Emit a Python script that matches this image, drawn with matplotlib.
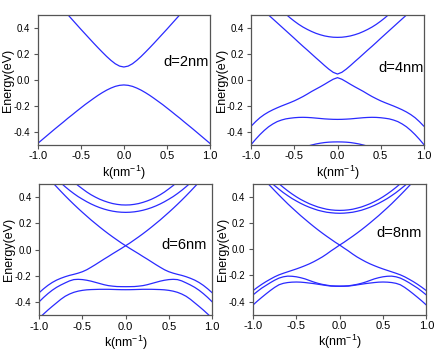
import matplotlib
matplotlib.use("Agg")
import matplotlib.pyplot as plt
import numpy as np

plt.rcParams['font.family'] = ['Liberation Sans', 'DejaVu Sans']
plt.rcParams['mathtext.default'] = 'regular'
plt.rcParams['axes.unicode_minus'] = False

# k grid (nm^-1), only k >= 0 is listed, bands are symmetric in k
k = [0.0, 0.05, 0.1, 0.15, 0.2, 0.25, 0.3, 0.35, 0.4, 0.45, 0.5,
     0.55, 0.6, 0.65, 0.7, 0.75, 0.8, 0.85, 0.9, 0.95, 1.0]

# d = 2nm
d2_cond = [0.100, 0.107, 0.125, 0.151, 0.181, 0.214, 0.248, 0.283, 0.319, 0.355,
           0.391, 0.428, 0.465, 0.502, 0.539]
d2_val = [-0.038, -0.041, -0.049, -0.062, -0.078, -0.097, -0.118, -0.141, -0.165, -0.189,
          -0.215, -0.241, -0.268, -0.294, -0.322, -0.349, -0.376, -0.404, -0.432, -0.460, -0.488]

# d = 4nm
d4_sub1 = [0.328, 0.329, 0.333, 0.339, 0.348, 0.359, 0.373, 0.389, 0.407, 0.428,
           0.452, 0.478, 0.507, 0.538]
d4_dirac_up = [0.046, 0.059, 0.083, 0.111, 0.141, 0.170, 0.200, 0.230, 0.259, 0.289,
               0.320, 0.350, 0.380, 0.410, 0.440, 0.470, 0.500, 0.530]
d4_dirac_dn = [0.018, 0.006, -0.013, -0.033, -0.052, -0.070, -0.088, -0.108, -0.127, -0.144,
               -0.160, -0.174, -0.187, -0.200, -0.214, -0.229, -0.246, -0.266, -0.290, -0.320, -0.354]
d4_vb1 = [-0.303, -0.3025, -0.301, -0.299, -0.296, -0.293, -0.290, -0.288, -0.287, -0.2877,
          -0.290, -0.294, -0.299, -0.308, -0.320, -0.338, -0.360, -0.388, -0.420, -0.456, -0.495]
d4_vb2 = [-0.476, -0.4765, -0.478, -0.481, -0.486, -0.492, -0.500, -0.509, -0.520]

# d = 6nm
d6_sub1 = [0.340, 0.341, 0.345, 0.351, 0.360, 0.371, 0.384, 0.400, 0.418, 0.439,
           0.463, 0.488, 0.516]
d6_sub2 = [0.284, 0.285, 0.288, 0.293, 0.300, 0.309, 0.320, 0.333, 0.348, 0.365,
           0.384, 0.404, 0.427, 0.452, 0.479, 0.508]
d6_dirac_up = [0.030, 0.051, 0.074, 0.097, 0.121, 0.146, 0.172, 0.199, 0.226, 0.255,
               0.284, 0.314, 0.345, 0.377, 0.410, 0.444, 0.479, 0.514]
d6_dirac_dn = [0.030, 0.009, -0.011, -0.031, -0.052, -0.072, -0.093, -0.114, -0.134, -0.153,
               -0.168, -0.179, -0.188, -0.196, -0.206, -0.218, -0.232, -0.250, -0.272, -0.298, -0.327]
d6_vb1 = [-0.282, -0.2817, -0.281, -0.278, -0.274, -0.267, -0.258, -0.249, -0.240, -0.233,
          -0.228, -0.226, -0.228, -0.238, -0.253, -0.269, -0.287, -0.309, -0.335, -0.364, -0.396]
d6_vb2 = [-0.305, -0.3048, -0.304, -0.303, -0.302, -0.302, -0.302, -0.303, -0.304, -0.306,
          -0.310, -0.316, -0.325, -0.338, -0.355, -0.378, -0.405, -0.432, -0.460, -0.490, -0.520]

# d = 8nm
d8_sub1 = [0.298, 0.299, 0.302, 0.307, 0.315, 0.324, 0.336, 0.349, 0.365, 0.382,
           0.402, 0.424, 0.448, 0.474, 0.502]
d8_sub2 = [0.276, 0.277, 0.280, 0.284, 0.291, 0.299, 0.310, 0.322, 0.336, 0.352,
           0.370, 0.389, 0.411, 0.434, 0.460, 0.487, 0.516]
d8_dirac_up = [0.033, 0.054, 0.077, 0.100, 0.124, 0.149, 0.175, 0.202, 0.230, 0.258,
               0.288, 0.318, 0.349, 0.382, 0.415, 0.449, 0.484, 0.519]
d8_dirac_dn = [0.033, 0.010, -0.012, -0.036, -0.058, -0.077, -0.095, -0.111, -0.125, -0.138,
               -0.150, -0.161, -0.172, -0.183, -0.195, -0.210, -0.228, -0.247, -0.268, -0.291, -0.316]
d8_vb1 = [-0.281, -0.2805, -0.279, -0.274, -0.268, -0.260, -0.250, -0.238, -0.226, -0.217,
          -0.210, -0.206, -0.205, -0.210, -0.220, -0.236, -0.255, -0.276, -0.297, -0.322, -0.349]
d8_vb2 = [-0.283, -0.2825, -0.281, -0.277, -0.272, -0.267, -0.262, -0.258, -0.254, -0.251,
          -0.250, -0.251, -0.254, -0.260, -0.271, -0.291, -0.315, -0.341, -0.368, -0.396, -0.426]

labels = ["d=2nm", "d=4nm", "d=6nm", "d=8nm"]
label_pos = [(0.455, 0.138), (0.47, 0.092), (0.41, 0.038), (0.423, 0.125)]
bands = [
    [d2_cond, d2_val],
    [d4_sub1, d4_dirac_up, d4_dirac_dn, d4_vb1, d4_vb2],
    [d6_sub1, d6_sub2, d6_dirac_up, d6_dirac_dn, d6_vb1, d6_vb2],
    [d8_sub1, d8_sub2, d8_dirac_up, d8_dirac_dn, d8_vb1, d8_vb2],
]

# axes rectangles in figure fraction
rects = [
    [0.0865, 0.5938, 0.3952, 0.3642],
    [0.5764, 0.5938, 0.3954, 0.3642],
    [0.0901, 0.1168, 0.3961, 0.3678],
    [0.5803, 0.1185, 0.3975, 0.3661],
]

fig = plt.figure(figsize=(4.36, 3.57), dpi=100)
line_color = '#2a2aff'
gray = '#555555'

for rect, panel, lab, pos in zip(rects, bands, labels, label_pos):
    ax = fig.add_axes(rect)
    for e in panel:
        n = len(e)
        kk = np.array(k[:n])
        ee = np.array(e)
        # mirror to negative k
        kfull = np.concatenate([-kk[::-1], kk[1:]])
        efull = np.concatenate([ee[::-1], ee[1:]])
        ax.plot(kfull, efull, color=line_color, lw=0.9)
    ax.set_xlim(-1.0, 1.0)
    ax.set_ylim(-0.5, 0.5)
    ax.set_xticks([-1.0, -0.5, 0.0, 0.5, 1.0])
    ax.set_yticks([-0.4, -0.2, 0.0, 0.2, 0.4])
    ax.xaxis.set_major_formatter(matplotlib.ticker.FormatStrFormatter('%.1f'))
    ax.yaxis.set_major_formatter(matplotlib.ticker.FormatStrFormatter('%.1f'))
    ax.tick_params(axis='x', labelsize=8, length=3, width=0.8, color=gray, pad=1.5)
    ax.tick_params(axis='y', labelsize=7, length=3, width=0.8, color=gray, pad=2.5)
    for sp in ax.spines.values():
        sp.set_color(gray)
        sp.set_linewidth(0.9)
    ax.set_xlabel('k(nm$^{-1}$)', fontsize=9, labelpad=1.5)
    ax.set_ylabel('Energy(eV)', fontsize=9)
    ax.yaxis.set_label_coords(-0.138, 0.5)
    ax.text(pos[0], pos[1], lab, fontsize=10.5, va='center', ha='left')

fig.savefig('out.png', dpi=100)
